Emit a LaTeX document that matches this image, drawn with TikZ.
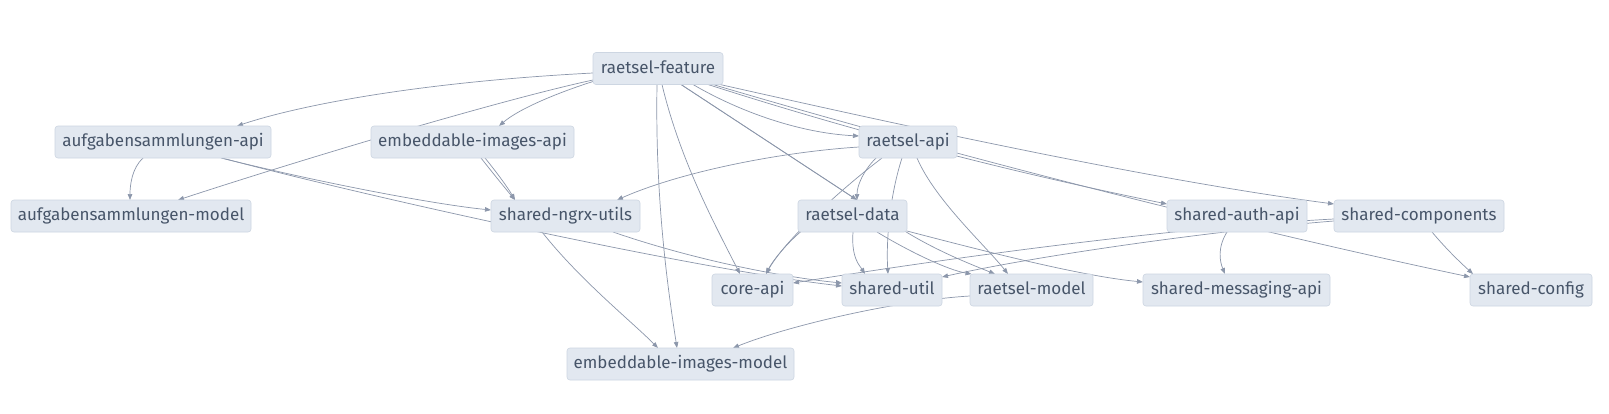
\documentclass[tikz,border=0pt]{standalone}
\usepackage{fontspec}
\setmainfont{Fira Sans}
\usetikzlibrary{arrows.meta,calc}
\definecolor{boxfill}{RGB}{226,232,240}
\definecolor{boxline}{RGB}{205,214,226}
\definecolor{txtc}{RGB}{71,85,105}
\definecolor{edgec}{RGB}{140,151,171}
\pgfdeclarelayer{bg}
\pgfsetlayers{bg,main}
\newcommand\nodefont{\fontsize{17}{20}\selectfont}
\begin{document}
\begin{tikzpicture}[x=1pt,y=-1pt,
  box/.style={draw=boxline, fill=boxfill, rounded corners=3pt, text=txtc, font=\nodefont, minimum height=32pt, inner sep=0pt, text height=13pt, text depth=3.5pt, line width=0.6pt},
  dep/.style={draw=edgec, line width=0.7pt, -{Triangle[length=6pt,width=4.5pt]}}]
\useasboundingbox (0,0) rectangle (1609,413);
% nodes
\node[box, minimum width=130pt] (rf)  at (658,68.5) {raetsel-feature};
\node[box, minimum width=216pt] (aa)  at (163,142) {aufgabensammlungen-api};
\node[box, minimum width=203pt] (eia) at (472.5,142) {embeddable-images-api};
\node[box, minimum width=98pt]  (ra)  at (908,142) {raetsel-api};
\node[box, minimum width=240pt] (am)  at (131,216) {aufgabensammlungen-model};
\node[box, minimum width=149pt] (sn)  at (565.5,216) {shared-ngrx-utils};
\node[box, minimum width=109pt] (rd)  at (852.5,216) {raetsel-data};
\node[box, minimum width=140pt] (sa)  at (1237,216) {shared-auth-api};
\node[box, minimum width=170pt] (sc)  at (1419,216) {shared-components};
\node[box, minimum width=81pt]  (ca)  at (752.5,290) {core-api};
\node[box, minimum width=100pt] (su)  at (892,290) {shared-util};
\node[box, minimum width=123pt] (rm)  at (1031.5,290) {raetsel-model};
\node[box, minimum width=187pt] (sm)  at (1236.5,290) {shared-messaging-api};
\node[box, minimum width=122pt] (sf)  at (1531,290) {shared-config};
\node[box, minimum width=227pt] (eim) at (680.5,364) {embeddable-images-model};
% edges
\begin{pgfonlayer}{bg}
\fill[white] (0,0) rectangle (1609,413);
\draw[dep] ($(rf)+(-65,4.5)$) .. controls (420,82) and (300,105) .. ($(aa)+(74,-16)$);
\draw[dep] ($(rf)+(-65,11.5)$) .. controls (500,100) and (300,160) .. ($(am)+(47,-16)$);
\draw[dep] ($(rf)+(-65,13)$) .. controls (560,92) and (520,108) .. ($(eia)+(26.5,-16)$);
\draw[dep] ($(eia)+(8.5,16)$) .. controls (492,172) and (505,188) .. ($(sn)+(-50.5,-16)$);
\draw[dep] ($(eia)+(12.5,16)$) .. controls (498,174) and (508,188) .. ($(sn)+(-50.5,-16)$);
\draw[dep] ($(rf)+(-1,16)$) .. controls (655,200) and (668,290) .. ($(eim)+(-3.5,-16)$);
\draw[dep] ($(rf)+(4,16)$) .. controls (680,160) and (715,225) .. ($(ca)+(-12.5,-16)$);
\draw[dep] ($(rf)+(23,16)$) -- ($(rd)+(4.5,-16)$);
\draw[dep] ($(rf)+(23,16)$) -- ($(rd)+(42.5,8.9)$) .. controls (930,248) and (965,262) .. ($(rm)+(-36.5,-16)$);
\draw[dep] ($(rf)+(35,16)$) .. controls (740,112) and (800,133) .. ($(ra)+(-49,-6)$);
\draw[dep] ($(rf)+(50,16)$) .. controls (850,130) and (1000,170) .. ($(sa)+(-70,-12)$);
\draw[dep] ($(rf)+(55,16)$) .. controls (900,140) and (1200,220) .. ($(sf)+(-61,-13)$);
\draw[dep] ($(rf)+(62,16)$) .. controls (900,125) and (1150,180) .. ($(sc)+(-85,-12)$);
\draw[dep] ($(ra)+(-49,5)$) .. controls (780,152) and (680,172) .. ($(sn)+(51.5,-16)$);
\draw[dep] ($(ra)+(-26,16)$) .. controls (840,190) and (785,240) .. ($(ca)+(13.5,-16)$);
\draw[dep] ($(ra)+(-32,16)$) .. controls (864,170) and (857,185) .. ($(rd)+(4.5,-16)$);
\draw[dep] ($(ra)+(-6,16)$) .. controls (890,195) and (886,240) .. ($(su)+(-4,-16)$);
\draw[dep] ($(ra)+(9,16)$) .. controls (935,200) and (985,245) .. ($(rm)+(-23.5,-16)$);
\draw[dep] ($(rd)+(-51,15)$) .. controls (785,245) and (772,262) .. ($(ca)+(13.5,-16)$);
\draw[dep] ($(rd)+(0.5,16)$) .. controls (851,258) and (860,266) .. ($(su)+(-27,-16)$);
\draw[dep] ($(rd)+(24.5,16)$) .. controls (910,252) and (948,270) .. ($(rm)+(-60,-16)$);
\draw[dep] ($(rd)+(54.5,15)$) .. controls (980,250) and (1080,276) .. ($(sm)+(-93.5,-8)$);
\draw[dep] ($(sn)+(-23.5,16)$) .. controls (580,280) and (630,320) .. ($(eim)+(-22.5,-16)$);
\draw[dep] ($(sn)+(47.5,16)$) .. controls (700,262) and (790,278) .. ($(su)+(-50,-7)$);
\draw[dep] ($(aa)+(59,16)$) .. controls (380,200) and (700,270) .. ($(su)+(-50,-4)$);
\draw[dep] ($(aa)+(58,16)$) .. controls (330,185) and (440,205) .. ($(sn)+(-74.5,-6)$);
\draw[dep] ($(aa)+(-20,16)$) .. controls (132,168) and (130,185) .. ($(am)+(-1,-16)$);
\draw[dep] ($(sc)+(-85,3)$) .. controls (1200,226) and (1000,250) .. ($(ca)+(40.5,-7)$);
\draw[dep] ($(sc)+(-85,5)$) .. controls (1220,230) and (1040,255) .. ($(su)+(50,-13)$);
\draw[dep] ($(sa)+(-10,16)$) .. controls (1217,248) and (1220,262) .. ($(sm)+(-11.5,-16)$);
\draw[dep] ($(sc)+(13,16)$) .. controls (1447,250) and (1462,264) .. ($(sf)+(-58,-16)$);
\draw[dep] ($(rm)+(-61.5,6)$) .. controls (900,300) and (790,325) .. ($(eim)+(52.5,-16)$);
\end{pgfonlayer}
\end{tikzpicture}
\end{document}
